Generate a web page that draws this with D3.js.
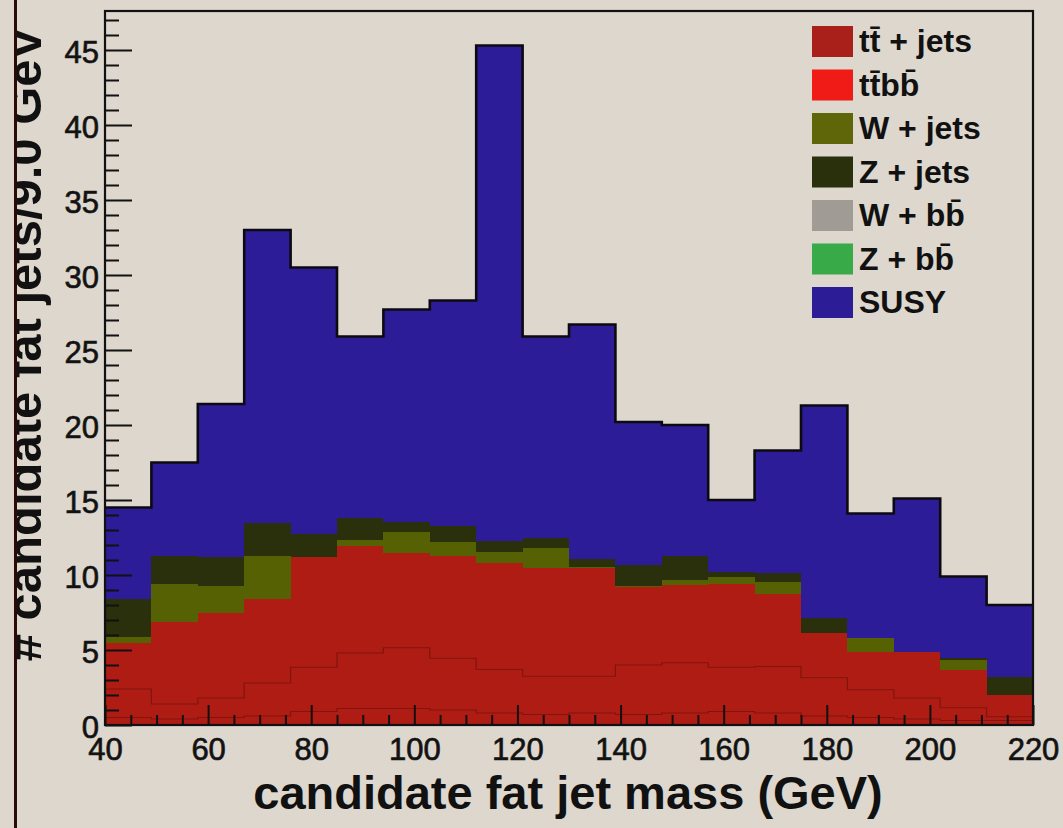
<!DOCTYPE html>
<html>
<head>
<meta charset="utf-8">
<script src="https://cdn.jsdelivr.net/npm/d3@7"></script>
<style>
  html, body { margin: 0; padding: 0; background: #ddd7ce; }
  svg { display: block; }
  text { font-family: "Liberation Sans", Arial, Helvetica, sans-serif; fill: #111; }
</style>
</head>
<body>
<svg id="chart" width="1063" height="828"></svg>
<script>
// Bin lower edges (GeV); every bin is 9 GeV wide
const binLow = [40, 49, 58, 67, 76, 85, 94, 103, 112, 121, 130, 139, 148, 157, 166, 175, 184, 193, 202, 211];
const binWidth = 9;

// Candidate fat jets per bin, by sample (stacked bottom to top)
const ttJetsA = [0.5, 0.4, 0.5, 0.6, 0.9, 1.1, 1.1, 1.0, 0.8, 0.7, 0.8, 0.7, 0.8, 0.9, 0.8, 0.6, 0.5, 0.4, 0.3, 0.3];
const ttJetsB = [1.9, 1.0, 1.3, 2.2, 2.95, 3.7, 4.05, 3.45, 2.9, 2.55, 2.45, 3.3, 3.35, 2.95, 3.1, 2.55, 1.85, 1.4, 0.85, 0.25];
const ttJetsC = [3.1, 5.45, 5.65, 5.6, 7.35, 7.15, 6.3, 6.8, 7.1, 7.25, 7.2, 5.2, 5.2, 5.55, 4.85, 3.0, 2.5, 3.07, 2.5, 1.45];
const ttbb    = [0, 0, 0, 0, 0, 0, 0, 0, 0, 0, 0, 0, 0, 0, 0, 0, 0, 0, 0, 0];
const wJets   = [0.4, 2.55, 1.85, 2.85, 0, 0.4, 1.45, 0.95, 0.75, 1.3, 0.1, 0.05, 0.3, 0.45, 0.8, 0, 0.95, 0, 0.7, 0];
const zJets   = [2.5, 1.9, 1.9, 2.2, 1.55, 1.45, 0.65, 1.05, 0.7, 0.65, 0.55, 1.4, 1.65, 0.35, 0.6, 1.0, 0, 0, 0.1, 1.2];
const wbb     = [0, 0, 0, 0, 0, 0, 0, 0, 0, 0, 0, 0, 0, 0, 0, 0, 0, 0, 0, 0];
const zbb     = [0, 0, 0, 0, 0, 0, 0, 0, 0, 0, 0, 0, 0, 0, 0, 0, 0, 0, 0, 0];
const susy    = [6.1, 6.2, 10.2, 19.55, 17.75, 12.1, 14.15, 15.05, 33.05, 13.45, 15.6, 9.55, 8.7, 4.8, 8.15, 14.15, 8.3, 10.23, 5.45, 4.8];

// Axis ticks and labels
const xMajorTicks = [40, 60, 80, 100, 120, 140, 160, 180, 200, 220];
const yMajorTicks = [0, 5, 10, 15, 20, 25, 30, 35, 40, 45];
const xTitle = "candidate fat jet mass (GeV)";
const yTitle = "# candidate fat jets/9.0 GeV";

// Legend
const legendLabels = ["t\u0074\u0304 + jets", "t\u0074\u0304b\u0062\u0304", "W + jets", "Z + jets", "W + b\u0062\u0304", "Z + b\u0062\u0304", "SUSY"];
const legendColors = ["#a9201a", "#f01a16", "#5f660a", "#29300b", "#a19b96", "#38aa48", "#2c1c96"];

// ---------------------------------------------------------------
const svg = d3.select("#chart");
const W = 1063, H = 828;
const plot = { left: 105, right: 1033, top: 11, bottom: 725 };

svg.append("rect").attr("width", W).attr("height", H).attr("fill", "#ddd7ce");

const x = d3.scaleLinear().domain([40, 220]).range([plot.left, plot.right]);
const y = d3.scaleLinear().domain([0, 47.6]).range([plot.bottom, plot.top]);

const keys = ["ttA", "ttB", "ttC", "ttbb", "wJets", "zJets", "wbb", "zbb", "susy"];
const fillColor = {
  ttA: "#ae1c14", ttB: "#ae1c14", ttC: "#ae1c14",
  ttbb: legendColors[1], wJets: "#566104", zJets: legendColors[3],
  wbb: legendColors[4], zbb: legendColors[5], susy: "#2d1c97"
};

const rows = binLow.map((lo, i) => ({
  lo,
  ttA: ttJetsA[i], ttB: ttJetsB[i], ttC: ttJetsC[i], ttbb: ttbb[i],
  wJets: wJets[i], zJets: zJets[i], wbb: wbb[i], zbb: zbb[i], susy: susy[i]
}));

const series = d3.stack().keys(keys)(rows);

// step points for one stacked layer, closing at the last bin's upper edge
function stepPoints(layer) {
  const pts = layer.map(d => ({ e: d.data.lo, y0: d[0], y1: d[1] }));
  const last = layer[layer.length - 1];
  pts.push({ e: last.data.lo + binWidth, y0: last[0], y1: last[1] });
  return pts;
}

const area = d3.area()
  .curve(d3.curveStepAfter)
  .x(d => x(d.e))
  .y0(d => y(d.y0))
  .y1(d => y(d.y1));

const gFill = svg.append("g");
series.forEach(layer => {
  gFill.append("path")
    .attr("d", area(stepPoints(layer)))
    .attr("fill", fillColor[layer.key])
    .attr("shape-rendering", "crispEdges");
});

const topLine = d3.line()
  .curve(d3.curveStepAfter)
  .x(d => x(d.e))
  .y(d => y(d.y1));

// thin outlines between the tt + jets contributions
["ttA", "ttB"].forEach(k => {
  const layer = series.find(s => s.key === k);
  gFill.append("path")
    .attr("d", topLine(stepPoints(layer)))
    .attr("fill", "none")
    .attr("stroke", "#80140f")
    .attr("stroke-width", 1.2);
});

// outline of the full stack
gFill.append("path")
  .attr("d", topLine(stepPoints(series[series.length - 1])))
  .attr("fill", "none")
  .attr("stroke", "#0c0a10")
  .attr("stroke-width", 2.6);

// ---------------- axes ----------------
const tickFont = "31px";

const yMinor = d3.range(0, 48).filter(v => !yMajorTicks.includes(v));
const gyMinor = svg.append("g").attr("transform", `translate(${plot.left},0)`)
  .call(d3.axisLeft(y).tickValues(yMinor).tickSizeInner(-14).tickSizeOuter(0).tickFormat(""));
const gy = svg.append("g").attr("transform", `translate(${plot.left},0)`)
  .call(d3.axisLeft(y).tickValues(yMajorTicks).tickSizeInner(-27).tickSizeOuter(0).tickPadding(6));

const xMinor = d3.range(40, 221, 5).filter(v => !xMajorTicks.includes(v));
const gxMinor = svg.append("g").attr("transform", `translate(0,${plot.bottom})`)
  .call(d3.axisBottom(x).tickValues(xMinor).tickSizeInner(-10).tickSizeOuter(0).tickFormat(""));
const gx = svg.append("g").attr("transform", `translate(0,${plot.bottom})`)
  .call(d3.axisBottom(x).tickValues(xMajorTicks).tickSizeInner(-20).tickSizeOuter(0).tickPadding(13));

[gyMinor, gy, gxMinor, gx].forEach(g => {
  g.select(".domain").remove();
  g.selectAll(".tick line").attr("stroke", "#111").attr("stroke-width", 2);
  g.selectAll(".tick text")
    .style("font-family", '"Liberation Sans", Arial, sans-serif')
    .style("font-size", tickFont)
    .attr("fill", "#1a1a1a")
    .attr("stroke", "#1a1a1a").attr("stroke-width", 0.7);
});
gy.selectAll(".tick text").attr("dy", "0.40em");

// frame
svg.append("rect")
  .attr("x", plot.left).attr("y", plot.top)
  .attr("width", plot.right - plot.left).attr("height", plot.bottom - plot.top)
  .attr("fill", "none").attr("stroke", "#111").attr("stroke-width", 2.2);

// ---------------- titles ----------------
svg.append("text")
  .attr("x", (plot.left + plot.right) / 2 - 1)
  .attr("y", 809)
  .attr("text-anchor", "middle")
  .style("font-size", "47px").style("font-weight", "bold")
  .text(xTitle);

svg.append("clipPath").attr("id", "leftEdge")
  .append("rect").attr("x", 17).attr("y", 0).attr("width", 200).attr("height", H);

svg.append("g").attr("clip-path", "url(#leftEdge)")
  .append("text")
  .attr("transform", "translate(41,344) rotate(-90)")
  .attr("text-anchor", "middle")
  .style("font-size", "49px").style("font-weight", "bold")
  .text(yTitle);

// dark border along the left edge
svg.append("rect").attr("x", 14).attr("y", 0).attr("width", 3).attr("height", H).attr("fill", "#2b0a08");

// ---------------- legend ----------------
const legend = svg.append("g");
const ly = d3.scalePoint().domain(d3.range(legendLabels.length)).range([41, 302]);
legendLabels.forEach((lab, i) => {
  const cy = ly(i);
  legend.append("rect")
    .attr("x", 812).attr("y", cy - 15).attr("width", 41).attr("height", 31)
    .attr("fill", legendColors[i]);
  legend.append("text")
    .attr("x", 859).attr("y", cy + 11)
    .style("font-size", "32px").style("font-weight", "bold")
    .text(lab);
});
</script>
</body>
</html>
